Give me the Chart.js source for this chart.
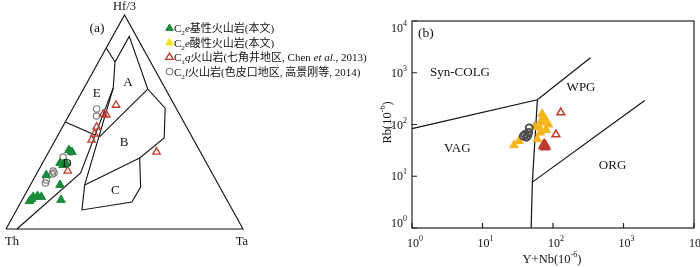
<!DOCTYPE html>
<html>
<head>
<meta charset="utf-8">
<script src="https://cdn.jsdelivr.net/npm/chart.js@4.4.1/dist/chart.umd.min.js"></script>
<style>
html, body { margin: 0; padding: 0; background: #fff; }
#wrap { position: relative; width: 700px; height: 267px; overflow: hidden; }
#ternary { position: absolute; left: 0; top: 0; }
#rbplot { position: absolute; left: 380px; top: 0; }
</style>
</head>
<body>
<div id="wrap">
  <canvas id="ternary" width="380" height="267"></canvas>
  <canvas id="rbplot" width="320" height="267"></canvas>
</div>
<script>
'use strict';

// ---- (a) Hf/3 - Th - Ta, every point is [Hf/3, Th, Ta] in %
let basicTernary = [
    [13.1, 83.5, 3.4], [15, 81, 4], [15.4, 79, 5.6], [15, 77.6, 7.4], [14, 82.2, 3.8],
    [13.6, 70, 16.4], [20.6, 66.9, 12.5], [25.2, 70.4, 4.4], [30.8, 61.8, 7.4],
    [30.8, 59.3, 9.9], [36.9, 55, 8.1], [36, 54.2, 9.8], [29.9, 61, 9.1]
];
let qijiaojingTernary = [
    [57.9, 24.6, 17.5], [53.7, 32.1, 14.2], [53.3, 31, 15.7], [47.7, 37.9, 14.4],
    [44.4, 40.5, 15.1], [41.6, 43.1, 15.3], [27.1, 60.4, 12.5], [36, 18.5, 45.5]
];
let sepikouTernary = [
    [56.1, 33.7, 10.2], [52.8, 35.4, 11.8], [33.6, 59.1, 7.3], [36, 54.6, 9.4],
    [27.1, 66.6, 6.3], [26.2, 66.6, 7.2], [25.7, 67.6, 6.7], [22.9, 71.5, 5.6], [21.5, 72.6, 5.9]
];

// field boundaries of the ternary diagram
let frameEdge = [[0, 100, 0], [0, 0, 100], [100, 0, 0], [0, 100, 0]];
let lineTopE = [[84.6, 15.4, 0], [78, 15, 7]];
let lineArc = [[78, 15, 7], [65.9, 21.8, 12.3], [26.2, 55.4, 18.4], [0, 95.4, 4.6]];
let lineWithin = [
    [65.9, 21.8, 12.3], [20.6, 56.5, 22.9], [8.9, 63.5, 27.6], [12.6, 40.6, 46.8],
    [19.6, 33.4, 47], [33.2, 27, 39.8], [42.5, 12, 45.5], [56.5, 4.6, 38.9],
    [65.4, 7.5, 27.1], [90, 3, 7], [78, 15, 7]
];
let lineBC = [[20.6, 56.5, 22.9], [33.2, 27, 39.8]];
let lineAB = [[65.4, 7.5, 27.1], [43, 39.1, 17.9]];
let lineED = [[50, 50, 0], [43.9, 40.5, 15.6]];

// ---- (b) Rb vs Y+Nb
let acidYNb = [28, 33, 60, 66, 70, 72, 68, 75, 80, 86, 55, 64, 78];
let acidRb = [40, 48, 52, 70, 160, 135, 115, 110, 78, 100, 92, 88, 125];
let qijiaojingYNb = [72, 75, 78, 80, 76, 74, 129, 110];
let qijiaojingRb = [38, 42, 40, 37, 36, 41, 170, 64];
let sepikouYNb = [46, 45, 40, 42, 44, 38];
let sepikouRb = [86, 70, 64, 57, 62, 60];

let synColgX = [1, 60, 340];
let synColgY = [83, 300, 1950];
let vagX = [60, 51, 49];
let vagY = [300, 7.7, 1];
let orgX = [51, 2000];
let orgY = [7.7, 290];

let logTicks = [1, 10, 100, 1000, 10000];
let tickExponents = ['0', '1', '2', '3', '4'];

const serif = '"Liberation Serif", "Times New Roman", "Noto Sans CJK SC", serif';
const green = '#1b8a3a';
const gold = '#f5b51c';
const yellow = '#f7e21a';
const red = '#bf3a2f';
const grayA = '#7d7d7d';
const grayB = '#4a4a4a';

function tern(p) {
    let s = p[0] + p[1] + p[2];
    let h = p[0] / s * 100;
    let ta = p[2] / s * 100;
    return { x: ta + h / 2, y: h };
}

function boundary(points) {
    return {
        data: points.map(tern),
        showLine: true,
        borderColor: '#111',
        borderWidth: 1.1,
        pointRadius: 0,
        fill: false,
        order: 2,
        clip: false
    };
}

function pair(xs, ys) {
    return xs.map((x, i) => ({ x: x, y: ys[i] }));
}

// ---------- rich text helper (subscripts, italics)
function drawRich(ctx, parts, x, y, size) {
    ctx.textAlign = 'left';
    ctx.textBaseline = 'alphabetic';
    parts.forEach(part => {
        let t = part[0], kind = part[1];
        let s = kind === 's' ? size * 0.65 : size;
        ctx.font = (kind === 'i' ? 'italic ' : '') + s + 'px ' + serif;
        ctx.fillText(t, x, y + (kind === 's' ? 3 : 0));
        x += ctx.measureText(t).width;
    });
}

function drawSymbol(ctx, style, x, y) {
    ctx.save();
    ctx.lineWidth = style.borderWidth;
    ctx.strokeStyle = style.borderColor;
    ctx.fillStyle = style.fill;
    ctx.beginPath();
    if (style.shape === 'triangle') {
        let r = style.r;
        ctx.moveTo(x, y - r);
        ctx.lineTo(x + r * 0.95, y + r * 0.6);
        ctx.lineTo(x - r * 0.95, y + r * 0.6);
        ctx.closePath();
    } else {
        ctx.arc(x, y, style.r, 0, Math.PI * 2);
    }
    if (style.fill !== 'transparent') ctx.fill();
    ctx.stroke();
    ctx.restore();
}

let legendRows = [
    { sym: { shape: 'triangle', r: 4, fill: green, borderColor: green, borderWidth: 1 },
      parts: [['C', 'n'], ['2', 's'], ['e', 'i'], ['基性火山岩(本文)', 'n']] },
    { sym: { shape: 'triangle', r: 4, fill: yellow, borderColor: yellow, borderWidth: 1 },
      parts: [['C', 'n'], ['2', 's'], ['e', 'i'], ['酸性火山岩(本文)', 'n']] },
    { sym: { shape: 'triangle', r: 4, fill: 'transparent', borderColor: red, borderWidth: 1.4 },
      parts: [['C', 'n'], ['1', 's'], ['q', 'i'], ['火山岩(七角井地区, Chen ', 'n'], ['et al', 'i'], ['., 2013)', 'n']] },
    { sym: { shape: 'circle', r: 3.2, fill: 'transparent', borderColor: grayA, borderWidth: 1.1 },
      parts: [['C', 'n'], ['2', 's'], ['l', 'i'], ['火山岩(色皮口地区, 高景刚等, 2014)', 'n']] }
];

const ternaryText = {
    id: 'ternaryText',
    afterDraw(chart) {
        const ctx = chart.ctx;
        const xs = chart.scales.x, ys = chart.scales.y;
        const at = p => { let c = tern(p); return [xs.getPixelForValue(c.x), ys.getPixelForValue(c.y)]; };
        ctx.save();
        ctx.fillStyle = '#111';
        ctx.textAlign = 'center';
        ctx.textBaseline = 'middle';
        ctx.font = '13px ' + serif;
        [['A', [68.2, 14.4, 17.4]], ['E', [63.1, 30.2, 6.7]], ['B', [40.2, 30.1, 29.7]],
         ['C', [17.8, 45, 37.2]], ['D', [30.4, 59.1, 10.5]]].forEach(l => {
            let p = at(l[1]);
            ctx.fillText(l[0], p[0], p[1]);
        });
        ctx.font = '12.5px ' + serif;
        let top = at([100, 0, 0]), th = at([0, 100, 0]), ta = at([0, 0, 100]);
        ctx.fillText('Hf/3', top[0], top[1] - 8);
        ctx.fillText('Th', th[0] + 6, th[1] + 13);
        ctx.fillText('Ta', ta[0] - 1, ta[1] + 13);
        ctx.font = '13.5px ' + serif;
        ctx.fillText('(a)', 97, 28);
        legendRows.forEach((row, i) => {
            let y = 28 + i * 14.5;
            drawSymbol(ctx, row.sym, 169.5, y);
            ctx.fillStyle = '#111';
            drawRich(ctx, row.parts, 174, y + 4, 11);
        });
        ctx.restore();
    }
};

new Chart(document.getElementById('ternary'), {
    type: 'scatter',
    data: {
        datasets: [
            { label: 'C2e基性火山岩(本文)', data: basicTernary.map(tern), pointStyle: 'triangle',
              pointRadius: 5, backgroundColor: green, borderColor: green, borderWidth: 1, order: 0, clip: false },
            { label: 'C1q火山岩', data: qijiaojingTernary.map(tern), pointStyle: 'triangle',
              pointRadius: 4.3, backgroundColor: 'rgba(255,255,255,0)', borderColor: red, borderWidth: 1.3, order: 0, clip: false },
            { label: 'C2l火山岩', data: sepikouTernary.map(tern), pointStyle: 'circle',
              pointRadius: 3.2, backgroundColor: 'rgba(255,255,255,0)', borderColor: grayA, borderWidth: 1.2, order: 0, clip: false },
            boundary(frameEdge),
            boundary(lineTopE),
            boundary(lineArc),
            boundary(lineWithin),
            boundary(lineBC),
            boundary(lineAB),
            boundary(lineED)
        ]
    },
    options: {
        responsive: false,
        animation: false,
        layout: { padding: { left: 2, right: 137, top: 15, bottom: 38 } },
        scales: {
            x: { type: 'linear', min: 0, max: 100, display: false },
            y: { type: 'linear', min: 0, max: 100, display: false }
        },
        plugins: { legend: { display: false }, tooltip: { enabled: false } }
    },
    plugins: [ternaryText]
});

// ---------- (b)
function drawPower(ctx, exp, x, y, align) {
    ctx.textAlign = 'left';
    ctx.textBaseline = 'alphabetic';
    ctx.font = '12px ' + serif;
    let wb = ctx.measureText('10').width;
    ctx.font = '8px ' + serif;
    let we = ctx.measureText(exp).width;
    let left = align === 'right' ? x - wb - we : x - wb / 2;
    ctx.font = '12px ' + serif;
    ctx.fillText('10', left, y);
    ctx.font = '8px ' + serif;
    ctx.fillText(exp, left + wb, y - 6);
}

const rbFrame = {
    id: 'rbFrame',
    afterDraw(chart) {
        const ctx = chart.ctx, a = chart.chartArea;
        const xs = chart.scales.x, ys = chart.scales.y;
        ctx.save();
        ctx.strokeStyle = '#222';
        ctx.lineWidth = 1.2;
        ctx.strokeRect(a.left, a.top, a.right - a.left, a.bottom - a.top);
        ctx.fillStyle = '#111';
        logTicks.forEach((v, i) => {
            let px = xs.getPixelForValue(v);
            let py = ys.getPixelForValue(v);
            ctx.beginPath();
            ctx.moveTo(px, a.bottom); ctx.lineTo(px, a.bottom - 5);
            ctx.moveTo(a.left, py); ctx.lineTo(a.left + 5, py);
            ctx.stroke();
            drawPower(ctx, tickExponents[i], px + 1, a.bottom + 19, 'center');
            let nudge = i === 0 ? -5 : (i === logTicks.length - 1 ? 7 : 0);
            drawPower(ctx, tickExponents[i], a.left - 5, py + 4 + nudge, 'right');
        });
        // axis titles
        ctx.textAlign = 'left';
        let t1 = 'Y+Nb(10', t2 = ')';
        ctx.font = '12.5px ' + serif;
        let w1 = ctx.measureText(t1).width, w3 = ctx.measureText(t2).width;
        ctx.font = '8px ' + serif;
        let w2 = ctx.measureText('-6').width;
        let cx = (a.left + a.right) / 2 - 1;
        let sx = cx - (w1 + w2 + w3) / 2;
        ctx.font = '12.5px ' + serif;
        ctx.fillText(t1, sx, 263);
        ctx.fillText(t2, sx + w1 + w2, 263);
        ctx.font = '8px ' + serif;
        ctx.fillText('-6', sx + w1, 257);

        ctx.save();
        ctx.translate(11, (a.top + a.bottom) / 2 - 2);
        ctx.rotate(-Math.PI / 2);
        let r1 = 'Rb(10';
        ctx.font = '12.5px ' + serif;
        let rw1 = ctx.measureText(r1).width, rw3 = ctx.measureText(')').width;
        let rs = -(rw1 + w2 + rw3) / 2;
        ctx.fillText(r1, rs, 0);
        ctx.fillText(')', rs + rw1 + w2, 0);
        ctx.font = '8px ' + serif;
        ctx.fillText('-6', rs + rw1, -6);
        ctx.restore();

        ctx.font = '13.5px ' + serif;
        ctx.fillText('(b)', a.left + 6, a.top + 16);
        ctx.textAlign = 'center';
        ctx.textBaseline = 'middle';
        ctx.font = '13px ' + serif;
        ctx.fillText('Syn-COLG', xs.getPixelForValue(4.8), ys.getPixelForValue(1000));
        ctx.fillText('WPG', xs.getPixelForValue(250), ys.getPixelForValue(510));
        ctx.fillText('VAG', xs.getPixelForValue(4.4), ys.getPixelForValue(35));
        ctx.fillText('ORG', xs.getPixelForValue(700), ys.getPixelForValue(16));
        ctx.restore();
    }
};

function rbLine(xs, ys) {
    return {
        data: pair(xs, ys), showLine: true, borderColor: '#111', borderWidth: 1.2,
        pointRadius: 0, fill: false, order: 2, clip: false
    };
}

new Chart(document.getElementById('rbplot'), {
    type: 'scatter',
    data: {
        datasets: [
            { label: 'C2l', data: pair(sepikouYNb, sepikouRb), pointStyle: 'circle', pointRadius: 3.6,
              backgroundColor: 'rgba(255,255,255,0)', borderColor: grayB, borderWidth: 1.8, order: 0 },
            { label: 'C1q', data: pair(qijiaojingYNb, qijiaojingRb), pointStyle: 'triangle', pointRadius: 4.5,
              backgroundColor: 'rgba(255,255,255,0)', borderColor: red, borderWidth: 1.5, order: 0 },
            { label: 'C2e acid', data: pair(acidYNb, acidRb), pointStyle: 'triangle', pointRadius: 5,
              backgroundColor: gold, borderColor: gold, borderWidth: 1, order: 1 },
            rbLine(synColgX, synColgY),
            rbLine(vagX, vagY),
            rbLine(orgX, orgY)
        ]
    },
    options: {
        responsive: false,
        animation: false,
        layout: { padding: { left: 32, right: 2, top: 21, bottom: 39 } },
        scales: {
            x: { type: 'logarithmic', min: 1, max: 10000, display: false },
            y: { type: 'logarithmic', min: 1, max: 10000, display: false }
        },
        plugins: { legend: { display: false }, tooltip: { enabled: false } }
    },
    plugins: [rbFrame]
});
</script>
</body>
</html>
